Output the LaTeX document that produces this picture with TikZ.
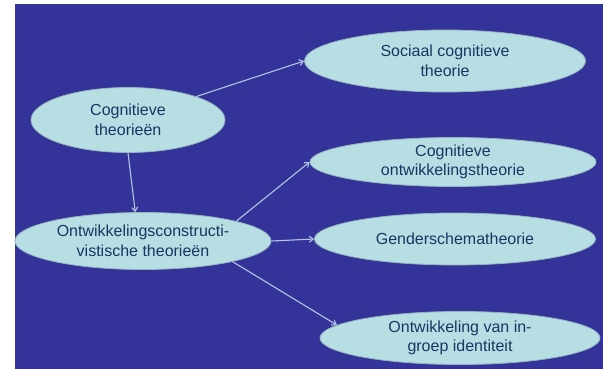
\documentclass[tikz,border=0pt]{standalone}
\usepackage{fontspec}
\setmainfont{Liberation Sans}
\usetikzlibrary{arrows.meta,shapes.geometric}
\definecolor{slidebg}{RGB}{51,51,153}
\definecolor{bubblefill}{RGB}{183,222,227}
\definecolor{bubbleline}{RGB}{150,178,190}
\definecolor{bubbletext}{RGB}{28,52,100}
\definecolor{arrowline}{RGB}{178,198,228}

\begin{document}
\begin{tikzpicture}[
  x=1pt, y=-1pt,
  bubble/.style={
    ellipse,
    draw=bubbleline,
    line width=0.8pt,
    fill=bubblefill,
    inner sep=0pt,
    align=center,
    text=bubbletext,
    font=\fontsize{16}{19.5}\selectfont
  },
  line/.style={-{Straight Barb[length=4pt,width=6pt]}, line width=1.1pt, draw=arrowline}
]

% Slide background
\useasboundingbox (0,0) rectangle (603,369);
\fill[white] (0,0) rectangle (603,369);
\fill[slidebg] (15,4) rectangle (603,369);

% Left column
\node[bubble, minimum width=194pt, minimum height=65pt] (cog) at (128,120) {Cognitieve\\theorieën};
\node[bubble, minimum width=256pt, minimum height=57pt] (ocv) at (143,241) {Ontwikkelingsconstructi-\\vistische theorieën};

% Right column
\node[bubble, minimum width=281pt, minimum height=62pt] (soc) at (445,61) {Sociaal cognitieve\\theorie};
\node[bubble, minimum width=286pt, minimum height=49pt] (cot) at (453,162) {Cognitieve\\ontwikkelingstheorie};
\node[bubble, minimum width=281pt, minimum height=52pt] (gst) at (455,239) {Genderschematheorie};
\node[bubble, minimum width=280pt, minimum height=53pt] (igi) at (460,338) {Ontwikkeling van in-\\groep identiteit};

% Connectors
\draw[line] (cog.19) -- (soc.west);
\draw[line] (cog.south) -- (ocv.105);
\draw[line] (ocv.12) -- (cot.west);
\draw[line] (ocv.east) -- (gst.west);
\draw[line] (ocv.-13) -- (igi.174);

\end{tikzpicture}
\end{document}
